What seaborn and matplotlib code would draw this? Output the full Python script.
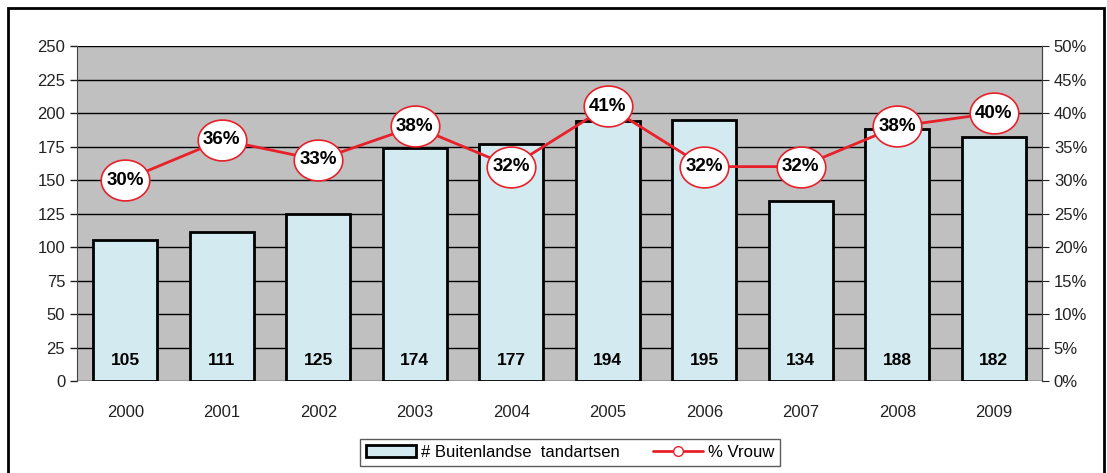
import numpy as np
import pandas as pd
import matplotlib
matplotlib.use("Agg")
import matplotlib.pyplot as plt
import seaborn as sns
from matplotlib.patches import Rectangle
from matplotlib.path import Path
from matplotlib.lines import Line2D

# data
jaren = ["2000", "2001", "2002", "2003", "2004", "2005", "2006", "2007", "2008", "2009"]
tandartsen = [105, 111, 125, 174, 177, 194, 195, 134, 188, 182]
pct_vrouw = [30, 36, 33, 38, 32, 41, 32, 32, 38, 40]

df = pd.DataFrame({"jaar": jaren, "aantal": tandartsen, "vrouw": pct_vrouw})

sns.set_style("white")
plt.rcParams["font.family"] = ["Liberation Sans", "DejaVu Sans"]
plt.rcParams["text.color"] = "black"

rood = "#E8202A"

fig = plt.figure(figsize=(11.07, 4.73), dpi=100)
ax = fig.add_axes([0.0696, 0.1945, 0.8717, 0.7082])
ax.set_facecolor("#C0C0C0")

sns.barplot(data=df, x="jaar", y="aantal", ax=ax, color="#D3EBF0",
            edgecolor="black", linewidth=2, width=0.66, saturation=1,
            label="# Buitenlandse  tandartsen", zorder=3)
ax.set_ylim(0, 250)
ax.set_xlim(-0.5, 9.5)
ax.set_yticks(np.arange(0, 251, 25))
ax.grid(axis="y", color="black", linewidth=1, zorder=0)
ax.set_axisbelow(True)
ax.set_xlabel("")
ax.set_ylabel("")
ax.tick_params(axis="both", labelsize=12, colors="#222222")
ax.tick_params(axis="y", length=5, width=1, direction="out", left=True)
ax.tick_params(axis="x", length=0, pad=17)
for s in ["top", "bottom"]:
    ax.spines[s].set_visible(False)
ax.spines["left"].set_color("#444444")
ax.spines["right"].set_color("#444444")

for i, v in enumerate(tandartsen):
    ax.text(i, 15, str(v), ha="center", va="center", fontsize=12.5,
            fontweight="bold", color="black", zorder=5)

# ellipse marker for the percentage labels
t = np.linspace(0, 2 * np.pi, 60)
ellips = Path(np.column_stack([np.cos(t), 0.84 * np.sin(t)]), closed=True)

ax2 = ax.twinx()
sns.lineplot(data=df, x="jaar", y="vrouw", ax=ax2, color=rood,
             linewidth=2, marker=ellips, markersize=35, markerfacecolor="white",
             markeredgecolor=rood, markeredgewidth=1.2, zorder=4)
ax2.set_ylim(0, 50)
ax2.set_yticks(np.arange(0, 51, 5))
ax2.set_yticklabels([f"{p}%" for p in range(0, 51, 5)])
ax2.set_ylabel("")
ax2.tick_params(axis="y", labelsize=12, colors="#222222", length=5,
                direction="out", right=True)
for s in ["top", "bottom", "left"]:
    ax2.spines[s].set_visible(False)
ax2.spines["right"].set_color("#444444")

for i, v in enumerate(pct_vrouw):
    ax2.text(i, v, f"{v}%", ha="center", va="center", fontsize=13.5,
             fontweight="bold", color="black", zorder=6)

h1, l1 = ax.get_legend_handles_labels()
if ax.get_legend():
    ax.get_legend().remove()
lijn = Line2D([], [], color=rood, linewidth=2, marker="o", markersize=7,
              markerfacecolor="white", markeredgecolor=rood)
fig.legend(h1 + [lijn], l1 + ["% Vrouw"], loc="center",
           bbox_to_anchor=(0.515, 0.044),
           ncol=2, frameon=True, fancybox=False, edgecolor="#333333",
           fontsize=12, handlelength=3, columnspacing=2.0,
           borderpad=0.35, handletextpad=0.3)

fig.patches.append(Rectangle((8 / 1107, -0.01), 1096 / 1107, 1 - 8 / 473 + 0.01,
                             transform=fig.transFigure, fill=False,
                             edgecolor="black", linewidth=2))

fig.savefig("out.png", dpi=100)
